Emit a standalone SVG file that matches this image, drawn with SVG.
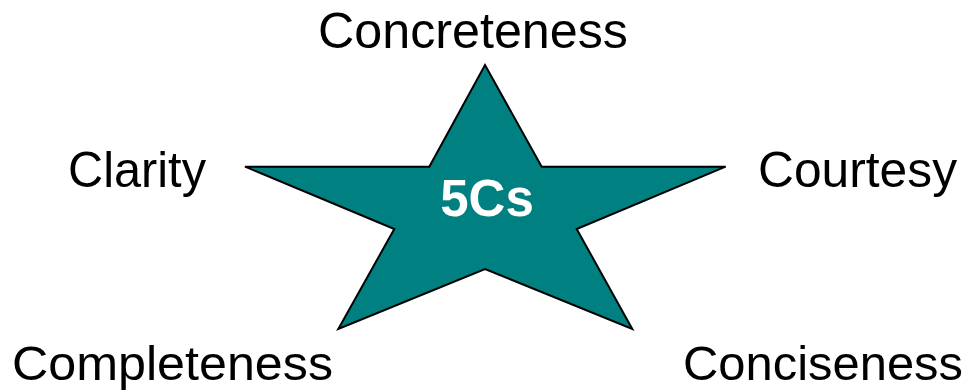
<svg xmlns="http://www.w3.org/2000/svg" width="966" height="392" viewBox="0 0 966 392">
<style>
.lbl{font-family:"Liberation Sans",Arial,sans-serif;font-size:50px;fill:#000}
.btm{font-size:48px}
.star{fill:#008080;stroke:#000;stroke-width:2;stroke-linejoin:miter}
.ctr{font-family:"Liberation Sans",Arial,sans-serif;font-size:51px;font-weight:bold;fill:#fff}
</style>
<rect width="966" height="392" fill="#fff"/>
<g id="star">
<polygon class="star" points="485,65 541.7,166.7 725.7,166.7 576.7,229 632.3,329 485,269 338.3,329 394.3,229 245,166.7 429.3,166.7"/>
<text class="ctr" x="487" y="216" text-anchor="middle">5Cs</text>
</g>
<g id="concreteness"><text class="lbl" x="318" y="48" textLength="310" lengthAdjust="spacingAndGlyphs">Concreteness</text></g>
<g id="clarity"><text class="lbl" x="68" y="187" textLength="138" lengthAdjust="spacingAndGlyphs">Clarity</text></g>
<g id="courtesy"><text class="lbl" x="758" y="187" textLength="199" lengthAdjust="spacingAndGlyphs">Courtesy</text></g>
<g id="completeness"><text class="lbl btm" x="12" y="380" textLength="321" lengthAdjust="spacingAndGlyphs">Completeness</text></g>
<g id="conciseness"><text class="lbl btm" x="683" y="380" textLength="280" lengthAdjust="spacingAndGlyphs">Conciseness</text></g>
<g id="connectors"></g>
</svg>
